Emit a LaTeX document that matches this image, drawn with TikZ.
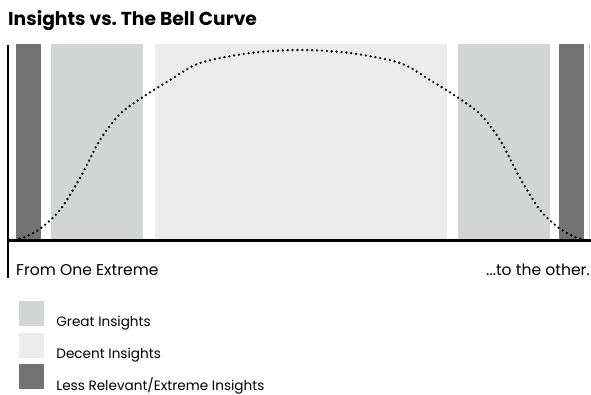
\documentclass[tikz,border=0pt]{standalone}
\usepackage{fontspec}
\setmainfont{Poppins}
\usetikzlibrary{positioning}
\definecolor{greatcol}{HTML}{D3D4D4}
\definecolor{decentcol}{HTML}{ECECEC}
\definecolor{extremecol}{HTML}{737373}

\begin{document}
\begin{tikzpicture}[
  x=1pt, y=-1pt,
  every node/.style={font=\fontsize{13.6}{16}\selectfont, inner sep=0pt},
  swatch/.style={fill=#1, minimum size=25pt, inner sep=0pt},
  axis/.style={line width=2.2pt, black},
  bellcurve/.style={line width=2.6pt, line cap=round, dash pattern=on 0pt off 4.9pt},
  axislabel/.style={font=\fontsize{15.6}{18}\selectfont},
  legendtext/.style={anchor=base west, yshift=3.5pt}
]
\useasboundingbox (0,0) rectangle (591,394);
% title
\node[anchor=base west, font=\bfseries\fontsize{18.7}{22}\selectfont] (title) at (8,25) {Insights vs.\ The Bell Curve};
% bands
\fill[extremecol] (16,44) rectangle (41,240);
\fill[greatcol] (51,44) rectangle (143,240);
\fill[decentcol] (155,44) rectangle (447,240);
\fill[greatcol] (458,44) rectangle (550,240);
\fill[extremecol] (559,44) rectangle (584,240);
\draw[gray!40, line width=0.8pt] (589.5,44) -- (589.5,240);
% axes
\draw[axis] (8,45) -- (8,278);
\draw[axis] (8,240.5) -- (591,240.5);
% curve
\draw[bellcurve] plot[smooth] coordinates {
  (10,241) (25,237) (41,228) (60,210) (80,178) (100,140) (120,114)
  (143,97) (170,80) (200,63) (250,53) (300,50) (350,53) (400,63)
  (430,80) (457,97) (480,114) (500,140) (520,178) (540,210)
  (559,228) (575,237) (589,241)};
% axis labels
\node[axislabel, anchor=base west] (fromend) at (16,275) {From One Extreme};
\node[axislabel, anchor=base east] (toend) at (590,275) {...to the other.};
% legend
\node[swatch=greatcol] (great) at (31.5,313.5) {};
\node[swatch=decentcol] (decent) at (31.5,345.5) {};
\node[swatch=extremecol] (extreme) at (31.5,376.5) {};
\node[legendtext, right=12pt of great.south east] (greatlabel) {Great Insights};
\node[legendtext, right=12pt of decent.south east] (decentlabel) {Decent Insights};
\node[legendtext, right=12pt of extreme.south east] (extremelabel) {Less Relevant/Extreme Insights};
\end{tikzpicture}
\end{document}
